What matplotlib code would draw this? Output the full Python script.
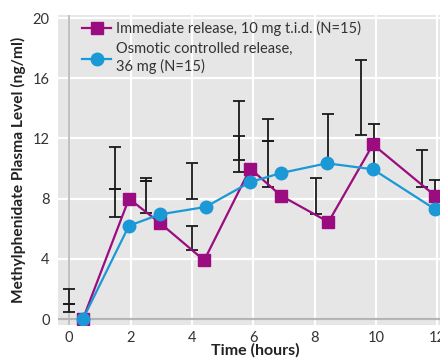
import numpy as np
from matplotlib import pyplot as plt

plt.rcParams['font.family'] = ['Lato', 'DejaVu Sans']

# mean plasma levels
ir_time = [0.45, 1.95, 2.95, 4.4, 5.9, 6.9, 8.45, 9.9, 11.92]
ir_level = [0.0, 8.0, 6.4, 3.9, 10.0, 8.2, 6.45, 11.6, 8.2]
oros_time = [0.45, 1.95, 2.95, 4.45, 5.9, 6.9, 8.4, 9.9, 11.92]
oros_level = [0.0, 6.2, 6.95, 7.45, 9.1, 9.7, 10.35, 9.95, 7.3]

# error bars (they sit a bit off the points in the original figure)
eb_time = [0.0, 0.0, 1.5, 1.5, 2.5, 2.5, 4.0, 4.0, 5.55, 5.55,
           6.47, 6.47, 8.03, 8.43, 9.5, 9.94, 11.5, 11.92]
eb_low = [0.5, 1.0, 6.8, 8.65, 7.05, 9.2, 8.0, 4.6, 10.6, 9.75,
          8.75, 11.8, 7.0, 10.4, 12.2, 10.0, 8.8, 8.2]
eb_high = [1.0, 2.0, 8.65, 11.45, 9.2, 9.4, 10.4, 6.2, 14.5, 12.15,
           11.8, 13.3, 9.35, 13.6, 17.2, 12.95, 11.2, 9.25]

ir_label = "Immediate release, 10 mg t.i.d. (N=15)"
oros_label = "Osmotic controlled release,\n36 mg (N=15)"
x_ticks = [0, 2, 4, 6, 8, 10, 12]
y_ticks = [0, 4, 8, 12, 16, 20]

purple = "#9b0c80"
blue = "#1b98d6"

fig = plt.figure(figsize=(4.4, 3.58), dpi=100)
ax = fig.add_axes([0.132, 0.092, 0.897, 0.866])
ax.set_facecolor("#e6e6e6")

ax.set_xlim(-0.36, 12.5)
ax.set_ylim(-0.4, 20.2)
ax.set_xticks(x_ticks)
ax.set_yticks(y_ticks)
ax.grid(True, color="white", linewidth=1.6, zorder=0)
ax.set_axisbelow(True)
ax.axhline(0, color="#b5b5b5", linewidth=1.6, zorder=1)
ax.axvline(0, color="#b5b5b5", linewidth=1.2, zorder=1)

for s in ax.spines.values():
    s.set_visible(False)
ax.tick_params(length=0, labelsize=10.5, colors="#333333", pad=6)
ax.tick_params(axis="x", pad=4)

eb_low = np.array(eb_low)
eb_high = np.array(eb_high)
ax.errorbar(eb_time, eb_low, yerr=[np.zeros_like(eb_low), eb_high - eb_low],
            fmt="none", ecolor="#1a1a1a", elinewidth=1.3, capsize=4,
            capthick=1.3, zorder=2)

ax.plot(ir_time, ir_level, color=purple, linewidth=1.6, marker="s",
        markersize=9, label=ir_label, zorder=3)
ax.plot(oros_time, oros_level, color=blue, linewidth=1.6, marker="o",
        markersize=9, label=oros_label, zorder=4)

leg = ax.legend(loc="upper left", bbox_to_anchor=(0.046, 1.0), frameon=False,
                fontsize=10.5, handlelength=2.0, handletextpad=0.35,
                labelspacing=0.4, borderaxespad=0.0, borderpad=0.4)
for t in leg.get_texts():
    t.set_color("#333333")
    t.set_linespacing(1.3)

ax.set_xlabel("Time (hours)", fontsize=11.5, fontweight="bold", color="#222222",
              labelpad=-1)
ax.set_ylabel("Methylphenidate Plasma Level (ng/ml)", fontsize=11.2,
              fontweight="bold", color="#222222", labelpad=5)

fig.savefig("out.png", dpi=100)
